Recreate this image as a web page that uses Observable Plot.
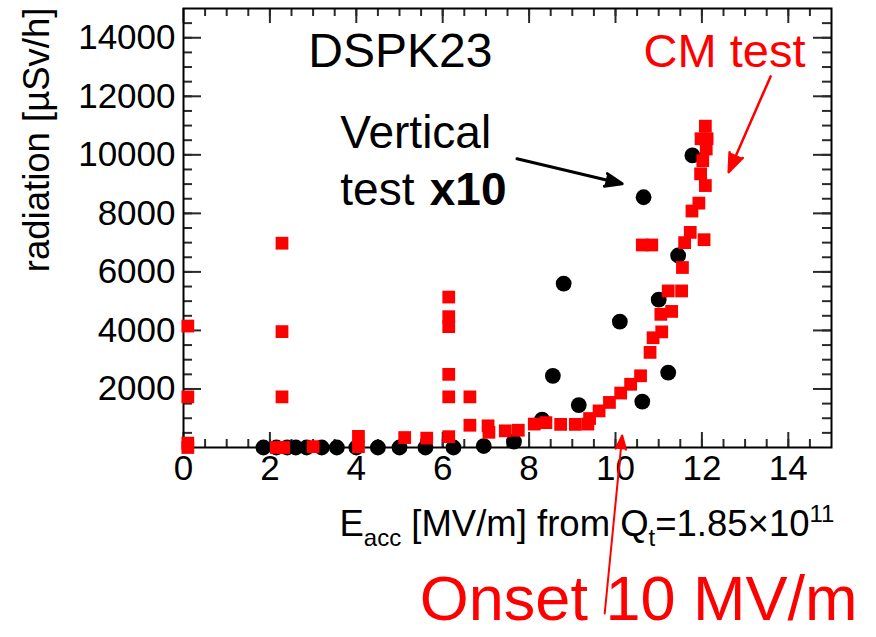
<!DOCTYPE html>
<html>
<head>
<meta charset="utf-8">
<script src="https://cdn.jsdelivr.net/npm/d3@7"></script>
<script src="https://cdn.jsdelivr.net/npm/@observablehq/plot@0.6"></script>
<style>
  html, body { margin: 0; padding: 0; background: #fff; }
</style>
</head>
<body>
<div id="chart"></div>
<script>
// Vertical test (radiation shown x10): accelerating field [MV/m] and radiation [µSv/h]
const vtEacc = [1.85, 2.15, 2.4, 2.6, 2.85, 3.2, 3.55, 4.0, 4.5, 5.0, 5.6, 6.25, 6.95, 7.65,
                8.3, 8.55, 8.8, 9.15, 10.1, 10.62, 10.65, 11.0, 11.22, 11.45, 11.78];
const vtRadiation = [0, 0, 0, 0, 0, 0, 0, 0, 0, 0, 0, 0, 50, 200,
                     950, 2450, 5600, 1450, 4300, 1570, 8550, 5050, 2560, 6560, 9980];

// CM test
const cmEacc = [0.1, 0.1, 0.1, 0.1, 2.28, 2.28, 2.28, 2.15, 2.32, 3.0, 4.05, 4.05, 5.12, 5.63,
                6.14, 6.14, 6.14, 6.14, 6.14, 6.14, 6.63, 6.63, 7.05, 7.07, 7.45, 7.75,
                8.12, 8.39, 8.73, 9.07, 9.36, 9.4, 9.62, 9.86, 10.12, 10.35, 10.58,
                10.8, 10.87, 11.07, 11.05, 11.3, 11.22, 11.53, 11.55, 11.6, 11.73, 12.05,
                10.62, 10.84, 11.77, 11.93, 12.08, 11.97, 12.02, 12.1, 11.98, 12.12, 12.08];
const cmRadiation = [4150, 1730, 150, 0, 6980, 3960, 1730, 0, 0, 30, 380, 30, 340, 320,
                     5140, 4470, 4130, 2500, 1730, 370, 1730, 760, 740, 520, 570, 590,
                     800, 850, 790, 790, 800, 990, 1250, 1540, 1860, 2160, 2450,
                     3250, 3750, 3950, 4550, 4650, 5350, 5350, 6150, 7000, 7350, 7100,
                     6920, 6920, 8080, 8350, 8950, 9350, 9800, 10200, 10550, 10550, 10980];

// Axis tick labels
const xTickLabels = [0, 2, 4, 6, 8, 10, 12, 14];
const yTickLabels = [2000, 4000, 6000, 8000, 10000, 12000, 14000];

// Axis title pieces: [text, kind]
const xTitleParts = [["E", "normal"], ["acc", "sub"], [" [MV/m] from Q", "normal"],
                     ["t", "sub"], ["=1.85×10", "normal"], ["11", "sup"]];
const xTitle = xTitleParts.map(d => d[0]).join("");
const yTitle = "radiation [µSv/h]";

const vertical = vtEacc.map((e, i) => ({eacc: e, radiation: vtRadiation[i]}));
const cm = cmEacc.map((e, i) => ({eacc: e, radiation: cmRadiation[i]}));

const W = 876, H = 637;
const margin = {left: 183, right: 45, top: 8, bottom: 190};
const frameW = W - margin.left - margin.right;
const frameH = H - margin.top - margin.bottom;

// minor ticks every 0.5 MV/m and 500 µSv/h, drawn inward on all four sides
const xMinor = d3.range(0.5, 15, 0.5);
const yMinor = d3.range(500, 15000, 500);
const tickStyle = {stroke: "#2a2a2a", strokeWidth: 2};

const arrows = [
  {x1: 7.72, y1: 9865, x2: 10.155, y2: 9011, color: "black", sw: 3, head: 9},
  {x1: 13.59, y1: 12680, x2: 12.62, y2: 9407, color: "red", sw: 2.5, head: 12},
  {x1: 9.75, y1: -5672, x2: 10.155, y2: 410, color: "red", sw: 2, head: 11}
];

const fontSans = "'Liberation Sans', Arial, Helvetica, sans-serif";

const chart = Plot.plot({
  width: W,
  height: H,
  marginLeft: margin.left,
  marginRight: margin.right,
  marginTop: margin.top,
  marginBottom: margin.bottom,
  style: {fontFamily: fontSans, background: "#fff", color: "#000"},
  x: {domain: [0, 15]},
  y: {domain: [0, 15000]},
  marks: [
    // inward ticks
    Plot.tickX(xMinor, {x: d => d, insetTop: frameH - 8, ...tickStyle}),
    Plot.tickX(xMinor, {x: d => d, insetBottom: frameH - 8, ...tickStyle}),
    Plot.tickX(xTickLabels, {x: d => d, insetTop: frameH - 15, ...tickStyle}),
    Plot.tickX(xTickLabels, {x: d => d, insetBottom: frameH - 15, ...tickStyle}),
    Plot.tickY(yMinor, {y: d => d, insetRight: frameW - 9, ...tickStyle}),
    Plot.tickY(yMinor, {y: d => d, insetLeft: frameW - 9, ...tickStyle}),
    Plot.tickY(yTickLabels, {y: d => d, insetRight: frameW - 18, ...tickStyle}),
    Plot.tickY(yTickLabels, {y: d => d, insetLeft: frameW - 18, ...tickStyle}),
    Plot.frame({stroke: "#000", strokeWidth: 2}),

    // tick labels
    Plot.axisX({ticks: xTickLabels, tickSize: 0, tickPadding: 8, fontSize: 35,
                tickFormat: d3.format("d"), label: null}),
    Plot.axisY({ticks: yTickLabels, tickSize: 0, tickPadding: 8, fontSize: 35,
                tickFormat: d3.format("d"), label: null}),

    // axis titles
    Plot.text([xTitle], {x: 3.61, y: -3010, text: d => d, textAnchor: "start",
                         lineAnchor: "bottom", fontSize: 36.5, fill: "#000"}),
    Plot.text([yTitle], {x: -3.12, y: 15030, text: d => d, rotate: -90, textAnchor: "end",
                         lineAnchor: "bottom", fontSize: 36.5, fill: "#000"}),

    // data
    Plot.dot(vertical, {x: "eacc", y: "radiation", r: 7.9, fill: "#000", stroke: null}),
    Plot.dot(cm, {x: "eacc", y: "radiation", symbol: "square", r: 7.2, fill: "#ff0000", stroke: null}),

    // annotations
    Plot.text(["DSPK23"], {x: 2.89, y: 12985, text: d => d, textAnchor: "start",
                           lineAnchor: "bottom", fontSize: 48, fill: "#000"}),
    Plot.text(["CM test"], {x: 10.65, y: 12985, text: d => d, textAnchor: "start",
                            lineAnchor: "bottom", fontSize: 47, fill: "#ff0000"}),
    Plot.text(["Vertical"], {x: 3.63, y: 10217, text: d => d, textAnchor: "start",
                             lineAnchor: "bottom", fontSize: 46, fill: "#000"}),
    Plot.text(["test"], {x: 3.63, y: 8269, text: d => d, textAnchor: "start",
                         lineAnchor: "bottom", fontSize: 46, fill: "#000"}),
    Plot.text(["x10"], {x: 5.7, y: 8269, text: d => d, textAnchor: "start",
                        lineAnchor: "bottom", fontSize: 46, fontWeight: "bold", fill: "#000"}),
    Plot.text(["Onset 10 MV/m"], {x: 5.47, y: -5890, text: d => d, textAnchor: "start",
                                  lineAnchor: "bottom", fontSize: 63, fill: "#ff0000"}),
    ...arrows.map(a => Plot.arrow([a], {
      x1: "x1", y1: "y1", x2: "x2", y2: "y2",
      stroke: a.color, fill: a.color, strokeWidth: a.sw,
      headLength: a.head, headAngle: 42
    }))
  ]
});

// rebuild the x title with subscripts and superscript
d3.select(chart).selectAll("text")
  .filter(function () { return this.textContent === xTitle; })
  .each(function () {
    const node = d3.select(this);
    node.text(null);
    const shifts = {normal: 0, sub: 10, sup: -14};
    let current = 0;
    for (const [s, kind] of xTitleParts) {
      const t = node.append("tspan").text(s);
      const target = shifts[kind];
      if (target !== current) t.attr("dy", target - current);
      current = target;
      if (kind !== "normal") t.attr("font-size", 24);
    }
  });

document.getElementById("chart").appendChild(chart);
</script>
</body>
</html>
